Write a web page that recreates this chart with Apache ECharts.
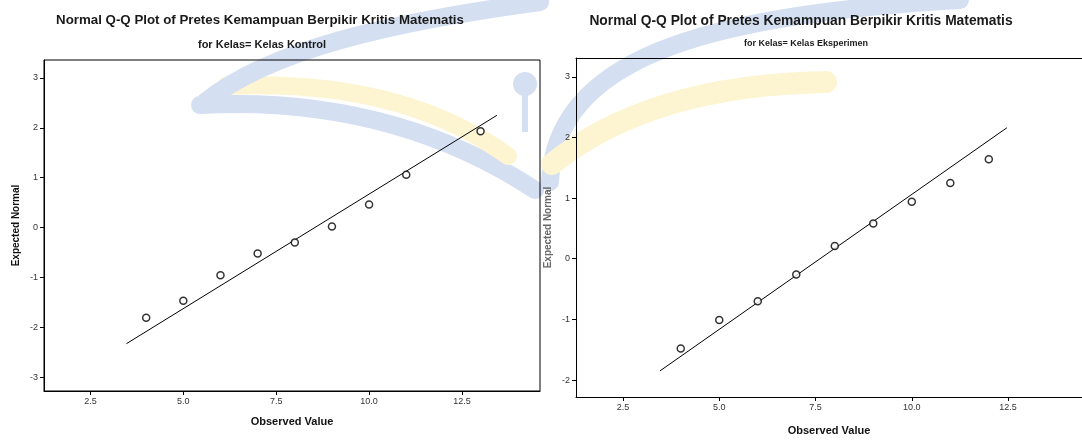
<!DOCTYPE html>
<html>
<head>
<meta charset="utf-8">
<script src="https://cdn.jsdelivr.net/npm/echarts@6/dist/echarts.min.js"></script>
<style>
  html, body { margin: 0; padding: 0; background: #fff; }
  #chart { width: 1082px; height: 441px; }
</style>
</head>
<body>
<div id="chart"></div>
<script>
// tick labels
const xTicks = [2.5, 5, 7.5, 10, 12.5]
const yTicksKontrol = [-3, -2, -1, 0, 1, 2, 3]
const yTicksEksperimen = [-2, -1, 0, 1, 2, 3]

// Kelas Kontrol: observed value vs expected normal
const kontrolObserved = [4, 5, 6, 7, 8, 9, 10, 11, 13]
const kontrolExpected = [-1.81, -1.47, -0.96, -0.52, -0.30, 0.02, 0.46, 1.06, 1.93]
const kontrolLineX = [3.47, 13.44]
const kontrolLineY = [-2.33, 2.25]

// Kelas Eksperimen
const eksperimenObserved = [4, 5, 6, 7, 8, 9, 10, 11, 12]
const eksperimenExpected = [-1.48, -1.01, -0.70, -0.26, 0.21, 0.58, 0.94, 1.25, 1.64]
const eksperimenLineX = [3.46, 12.47]
const eksperimenLineY = [-1.85, 2.16]

const titleText = 'Normal Q-Q Plot of Pretes Kemampuan Berpikir Kritis Matematis'
const subKontrol = 'for Kelas= Kelas Kontrol'
const subEksperimen = 'for Kelas= Kelas Eksperimen'

const FONT = '"Liberation Sans", Arial, sans-serif'
const WM_BLUE = '#d4dff2'
const WM_YELLOW = '#fdf5d2'

const zip = (a, b) => a.map((v, i) => [v, b[i]])

function xAxisOf(gridIndex, min, max, gap) {
  return {
    type: 'value', gridIndex, min, max,
    name: 'Observed Value', nameLocation: 'middle', nameGap: gap,
    nameTextStyle: { fontFamily: FONT, fontSize: 11, fontWeight: 'bold', color: '#111' },
    axisLine: { show: true, onZero: false, lineStyle: { color: '#000', width: 1 } },
    axisTick: { show: true, length: 4, customValues: xTicks, lineStyle: { color: '#000' } },
    axisLabel: {
      customValues: xTicks, margin: 6,
      fontFamily: FONT, fontSize: 9, color: '#333',
      formatter: (v) => v.toFixed(1)
    },
    splitLine: { show: false }
  }
}

function yAxisOf(gridIndex, min, max, ticks, nameColor) {
  return {
    type: 'value', gridIndex, min, max,
    name: 'Expected Normal', nameLocation: 'middle', nameGap: 23,
    nameTextStyle: { fontFamily: FONT, fontSize: 10, fontWeight: 'bold', color: nameColor },
    axisLine: { show: true, onZero: false, lineStyle: { color: '#000', width: 1 } },
    axisTick: { show: true, length: 4, customValues: ticks, lineStyle: { color: '#000' } },
    axisLabel: { customValues: ticks, margin: 6, fontFamily: FONT, fontSize: 9, color: '#333' },
    splitLine: { show: false }
  }
}

function scatterOf(i, x, y) {
  return {
    type: 'scatter', xAxisIndex: i, yAxisIndex: i,
    data: zip(x, y),
    symbol: 'circle', symbolSize: 7,
    itemStyle: { color: '#fff', borderColor: '#000', borderWidth: 1.5 },
    z: 4
  }
}

function lineOf(i, x, y) {
  return {
    type: 'line', xAxisIndex: i, yAxisIndex: i,
    data: zip(x, y),
    symbol: 'none',
    lineStyle: { color: '#000', width: 1 },
    z: 3
  }
}

function text(x, y, t, size, weight) {
  return {
    type: 'text', x, y, z: 10,
    style: { text: t, fontFamily: FONT, fontSize: size, fontWeight: weight, fill: '#1a1a1a', align: 'center', verticalAlign: 'middle' }
  }
}

// curve band for the watermark (quadratic, or cubic when c2 is given)
function band(p1, c1, p2, color, width, c2) {
  const shape = { x1: p1[0], y1: p1[1], cpx1: c1[0], cpy1: c1[1], x2: p2[0], y2: p2[1] }
  if (c2) { shape.cpx2 = c2[0]; shape.cpy2 = c2[1] }
  return {
    type: 'bezierCurve', z: -5, silent: true, shape,
    style: { fill: null, stroke: color, lineWidth: width, lineCap: 'round' }
  }
}

const chart = echarts.init(document.getElementById('chart'), null, { renderer: 'canvas' })

chart.setOption({
  backgroundColor: '#fff',
  animation: false,
  grid: [
    { left: 44, top: 60, right: 542, bottom: 50, show: true, borderColor: '#000', borderWidth: 1 },
    { left: 576, top: 58, right: 0, bottom: 39 }
  ],
  xAxis: [
    xAxisOf(0, 1.25, 14.6, 25),
    xAxisOf(1, 1.28, 14.42, 28),
    // top edge of the right frame
    { type: 'value', gridIndex: 1, position: 'top', min: 1.28, max: 14.42,
      axisLine: { show: true, onZero: false, lineStyle: { color: '#000', width: 1 } },
      axisTick: { show: false }, axisLabel: { show: false }, splitLine: { show: false } }
  ],
  yAxis: [
    yAxisOf(0, -3.28, 3.36, yTicksKontrol, '#111'),
    yAxisOf(1, -2.28, 3.31, yTicksEksperimen, '#666')
  ],
  series: [
    lineOf(0, kontrolLineX, kontrolLineY),
    scatterOf(0, kontrolObserved, kontrolExpected),
    lineOf(1, eksperimenLineX, eksperimenLineY),
    scatterOf(1, eksperimenObserved, eksperimenExpected)
  ],
  graphic: [
    // faint book logo watermark behind the plots
    band([200, 105], [390, 95], [535, 190], WM_BLUE, 18),
    band([226, 86], [400, 78], [508, 156], WM_YELLOW, 18),
    band([205, 102], [270, 50], [540, 2], WM_BLUE, 18, [390, 22]),
    band([550, 182], [555, 60], [960, 0], WM_BLUE, 18, [700, 15]),
    band([552, 164], [650, 85], [826, 82], WM_YELLOW, 22),
    { type: 'circle', z: -5, silent: true, shape: { cx: 525, cy: 84, r: 12 }, style: { fill: WM_BLUE } },
    { type: 'rect', z: -5, silent: true, shape: { x: 522, y: 88, width: 6, height: 44 }, style: { fill: WM_BLUE } },
    text(260, 20, titleText, 13.3, 'bold'),
    text(262, 45, subKontrol, 11, 'bold'),
    text(801, 21, titleText, 13.8, 'bold'),
    text(806, 44, subEksperimen, 9, 'bold')
  ]
})
</script>
</body>
</html>
